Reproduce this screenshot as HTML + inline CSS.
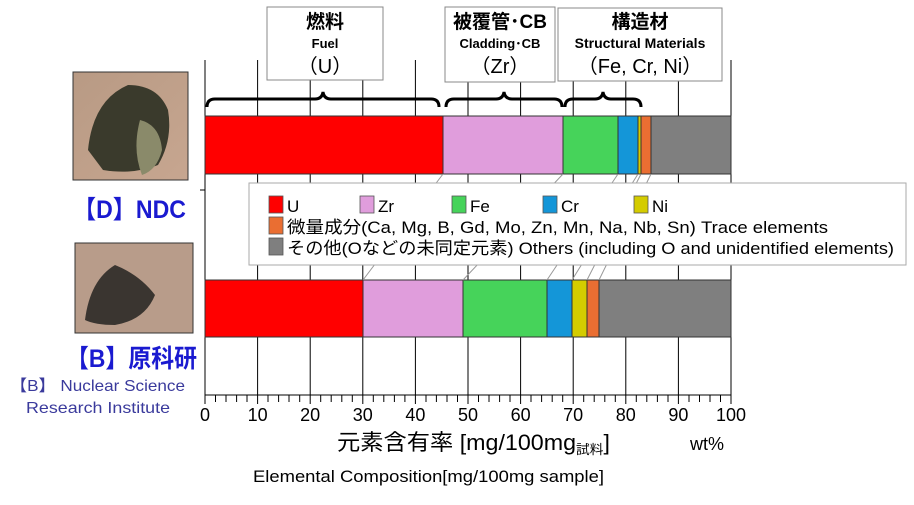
<!DOCTYPE html>
<html><head><meta charset="utf-8"><style>
body{margin:0;background:#fff;width:914px;height:500px;overflow:hidden}
svg text{font-family:"Liberation Sans","Noto Sans CJK JP",sans-serif}
</style></head><body>
<svg width="914" height="500" xmlns="http://www.w3.org/2000/svg">
<defs>
<linearGradient id="p1" x1="0" y1="0" x2="1" y2="1"><stop offset="0" stop-color="#b89a84"/><stop offset="1" stop-color="#c7a690"/></linearGradient>
</defs>
<g stroke="#000" stroke-width="1">
<line x1="205" y1="60" x2="205" y2="395"/>
<line x1="257.6" y1="60" x2="257.6" y2="395"/><line x1="310.2" y1="80" x2="310.2" y2="395"/>
<line x1="362.8" y1="80" x2="362.8" y2="395"/><line x1="415.4" y1="60" x2="415.4" y2="395"/>
<line x1="468" y1="82" x2="468" y2="395"/><line x1="520.6" y1="82" x2="520.6" y2="395"/>
<line x1="573.2" y1="81" x2="573.2" y2="395"/><line x1="625.8" y1="81" x2="625.8" y2="395"/>
<line x1="678.4" y1="81" x2="678.4" y2="395"/><line x1="731" y1="60" x2="731" y2="395"/>
<line x1="205" y1="395" x2="731" y2="395"/>
<line x1="200" y1="190" x2="205" y2="190"/>
</g>
<g stroke="#000" stroke-width="1">
<path d="M215.5 395v7M226 395v7M236.6 395v7M247 395v7M257.6 395v9M268 395v7M278.6 395v7M289 395v7M299.7 395v7M310.2 395v9M320.7 395v7M331.2 395v7M341.8 395v7M352.3 395v7M362.8 395v9M373.3 395v7M383.8 395v7M394.4 395v7M404.9 395v7M415.4 395v9M426 395v7M436.4 395v7M447 395v7M457.5 395v7M468 395v9M478.5 395v7M489 395v7M499.6 395v7M510 395v7M520.6 395v9M531 395v7M541.6 395v7M552.2 395v7M562.7 395v7M573.2 395v9M583.7 395v7M594.2 395v7M604.8 395v7M615.3 395v7M625.8 395v9M636.3 395v7M646.8 395v7M657.4 395v7M668 395v7M678.4 395v9M689 395v7M699.5 395v7M710 395v7M720.5 395v7M731 395v9M205 395v9"/>
</g>
<g stroke="#333" stroke-width="1">
<rect x="205" y="116" width="238" height="58" fill="#ff0000"/>
<rect x="443" y="116" width="120" height="58" fill="#e09ddc"/>
<rect x="563" y="116" width="55" height="58" fill="#46d35a"/>
<rect x="618" y="116" width="20" height="58" fill="#1496d8"/>
<rect x="638" y="116" width="3" height="58" fill="#d4cc00"/>
<rect x="641" y="116" width="10" height="58" fill="#ea6e32"/>
<rect x="651" y="116" width="80" height="58" fill="#7f7f7f"/>
</g>
<g stroke="#333" stroke-width="1">
<rect x="205" y="280" width="158" height="57" fill="#ff0000"/>
<rect x="363" y="280" width="100" height="57" fill="#e09ddc"/>
<rect x="463" y="280" width="84" height="57" fill="#46d35a"/>
<rect x="547" y="280" width="25" height="57" fill="#1496d8"/>
<rect x="572" y="280" width="15" height="57" fill="#d4cc00"/>
<rect x="587" y="280" width="12" height="57" fill="#ea6e32"/>
<rect x="599" y="280" width="132" height="57" fill="#7f7f7f"/>
</g>
<g stroke="#999" stroke-width="1">
<path d="M443 174L363 280M563 174L463 280M618 174L547 280M638 174L572 280M641 174L587 280M651 174L599 280"/>
</g>
<g fill="none" stroke="#000" stroke-width="3">
<path d="M207 107q0-8 8-8h100q7 0 8-7q1 7 8 7h100q8 0 8 8"/>
<path d="M446 107q0-8 8-8h42q7 0 8-7q1 7 8 7h42q8 0 8 8"/>
<path d="M565 107q0-8 8-8h22q7 0 8-7q1 7 8 7h22q8 0 8 8"/>
</g>
<g fill="#fff" stroke="#888" stroke-width="1">
<rect x="267" y="7" width="116" height="73"/>
<rect x="445" y="7" width="110" height="75"/>
<rect x="558" y="8" width="164" height="73"/>
</g>
<g text-anchor="middle" fill="#000">
<text x="325" y="28" font-size="19" font-weight="bold">燃料</text>
<text x="325" y="48" font-size="13" font-weight="bold">Fuel</text>
<text x="325" y="73" font-size="20">（U）</text>
<text x="500" y="28" font-size="19" font-weight="bold">被覆管･CB</text>
<text x="500" y="48" font-size="13" font-weight="bold">Cladding･CB</text>
<text x="500" y="73" font-size="20">（Zr）</text>
<text x="640" y="28" font-size="19" font-weight="bold">構造材</text>
<text x="640" y="48" font-size="14" font-weight="bold">Structural Materials</text>
<text x="640" y="73" font-size="20">（Fe, Cr, Ni）</text>
</g>
<rect x="249" y="183" width="657" height="82" fill="#fff" stroke="#aaa"/>
<g stroke="#555" stroke-width="0.8">
<rect x="269" y="196" width="14" height="17" fill="#ff0000"/>
<rect x="360" y="196" width="14" height="17" fill="#e09ddc"/>
<rect x="452" y="196" width="14" height="17" fill="#46d35a"/>
<rect x="543" y="196" width="14" height="17" fill="#1496d8"/>
<rect x="634" y="196" width="14" height="17" fill="#d4cc00"/>
<rect x="269" y="217" width="14" height="17" fill="#ea6e32"/>
<rect x="269" y="238" width="14" height="17" fill="#7f7f7f"/>
</g>
<g font-size="17" fill="#000">
<text x="287" y="212">U</text><text x="378" y="212">Zr</text><text x="470" y="212">Fe</text>
<text x="561" y="212">Cr</text><text x="652" y="212">Ni</text>
<text x="287" y="233" textLength="541" lengthAdjust="spacingAndGlyphs">微量成分(Ca, Mg, B, Gd, Mo, Zn, Mn, Na, Nb, Sn) Trace elements</text>
<text x="287" y="254" textLength="607" lengthAdjust="spacingAndGlyphs">その他(Oなどの未同定元素) Others (including O and unidentified elements)</text>
</g>
<g font-size="18" text-anchor="middle" fill="#000">
<text x="205" y="421">0</text><text x="257.6" y="421">10</text><text x="310.2" y="421">20</text>
<text x="362.8" y="421">30</text><text x="415.4" y="421">40</text><text x="468" y="421">50</text>
<text x="520.6" y="421">60</text><text x="573.2" y="421">70</text><text x="625.8" y="421">80</text>
<text x="678.4" y="421">90</text><text x="731" y="421">100</text>
</g>
<text x="337" y="450" font-size="22" fill="#000" textLength="273" lengthAdjust="spacingAndGlyphs">元素含有率 [mg/100mg<tspan font-size="13" dy="4">試料</tspan><tspan dy="-4">]</tspan></text>
<text x="690" y="450" font-size="18" fill="#000">wt%</text>
<text x="253" y="482" font-size="17" fill="#000" textLength="351" lengthAdjust="spacingAndGlyphs">Elemental Composition[mg/100mg sample]</text>
<rect x="73" y="72" width="115" height="108" fill="url(#p1)" stroke="#333"/>
<path d="M88 150q5-50 40-65q30 0 40 25q5 30-10 55q-25 10-55 5z" fill="#3a3a2c"/>
<path d="M140 120q20 5 22 30q-5 20-20 25q-10-25-2-55z" fill="#8a8a6a"/>
<rect x="75" y="243" width="118" height="90" fill="#b89c8a" stroke="#333"/>
<path d="M85 320q5-40 30-55q25 10 40 30q-10 25-40 30q-20 0-30-5z" fill="#3a3530"/>
<g font-weight="bold" fill="#1a1ad0">
<text x="73" y="218" font-size="25" textLength="113" lengthAdjust="spacingAndGlyphs">【D】NDC</text>
<text x="66" y="367" font-size="25" textLength="131" lengthAdjust="spacingAndGlyphs">【B】原科研</text>
</g>
<g font-size="16" fill="#3a3a9c">
<text x="10" y="391" textLength="175" lengthAdjust="spacingAndGlyphs">【B】 Nuclear Science</text>
<text x="26" y="413" textLength="144" lengthAdjust="spacingAndGlyphs">Research Institute</text>
</g>
</svg>
</body></html>
